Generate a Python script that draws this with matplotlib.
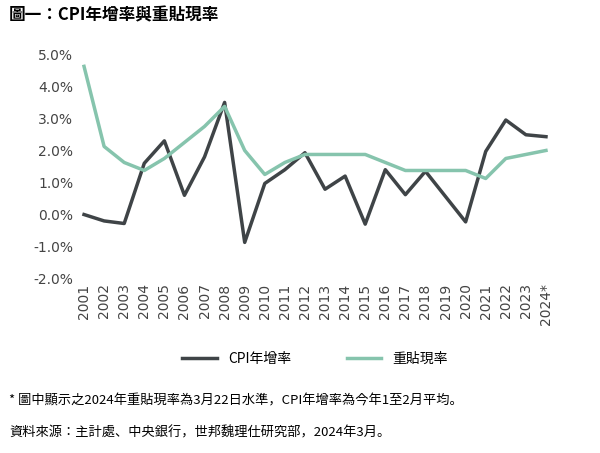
import matplotlib
matplotlib.use("Agg")
import matplotlib.pyplot as plt
from matplotlib import font_manager as fm

years = [str(y) for y in range(2001, 2024)] + ["2024*"]
cpi = [0.0, -0.2, -0.28, 1.6, 2.3, 0.6, 1.8, 3.5, -0.87, 0.97, 1.4, 1.93, 0.79, 1.2,
       -0.3, 1.4, 0.62, 1.35, 0.56, -0.23, 1.97, 2.95, 2.49, 2.43]
rate = [4.625, 2.125, 1.625, 1.375, 1.75, 2.25, 2.75, 3.375, 2.0, 1.25, 1.625, 1.875,
        1.875, 1.875, 1.875, 1.625, 1.375, 1.375, 1.375, 1.375, 1.125, 1.75, 1.875, 2.0]
yticks = [5, 4, 3, 2, 1, 0, -1, -2]

names = {f.name for f in fm.fontManager.ttflist}
cands = [n for n in ["Noto Sans CJK TC", "Noto Sans CJK JP", "Noto Sans CJK SC",
                     "Noto Sans CJK KR"] if n in names]
cands += [f.name for f in fm.fontManager.ttflist if "CJK" in f.name and f.name not in cands]
plt.rcParams["font.family"] = ["DejaVu Sans"] + cands
cjk = cands + ["DejaVu Sans"]

fig = plt.figure(figsize=(6, 4.53), dpi=100)
ax = fig.add_axes([0.13, 0.385, 0.79, 0.495])
x = range(len(years))
ax.plot(x, cpi, color="#3f4447", lw=2.5, label="CPI年增率")
ax.plot(x, rate, color="#86c4ad", lw=2.5, label="重貼現率")
ax.set_ylim(-2, 5)
ax.set_xlim(-0.3, len(years) - 0.7)
ax.set_yticks(yticks)
ax.set_yticklabels([f"{v:.1f}%" for v in yticks], fontsize=10, color="#444")
ax.set_xticks(list(x))
ax.set_xticklabels(years, rotation=90, fontsize=10, color="#444")
for s in ax.spines.values():
    s.set_visible(False)
ax.tick_params(length=0)
ax.legend(loc="upper center", bbox_to_anchor=(0.5, -0.27), ncol=2, frameon=False,
          prop={"family": cjk, "size": 10}, handlelength=2.5, columnspacing=4)

fig.text(0.015, 0.965, "圖一：CPI年增率與重貼現率", fontsize=12, fontweight="bold",
         family=cjk, va="center")
fig.text(0.015, 0.115, "* 圖中顯示之2024年重貼現率為3月22日水準，CPI年增率為今年1至2月平均。",
         fontsize=9.5, family=cjk, va="center")
fig.text(0.015, 0.045, "資料來源：主計處、中央銀行，世邦魏理仕研究部，2024年3月。",
         fontsize=9.5, family=cjk, va="center")
fig.savefig("out.png", dpi=100, facecolor="white")
